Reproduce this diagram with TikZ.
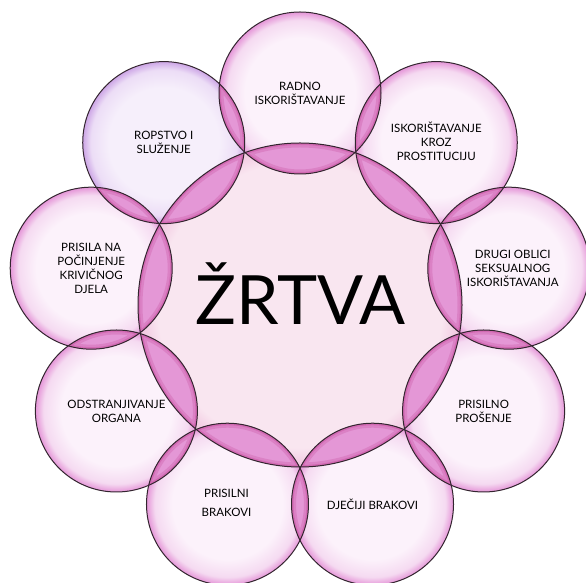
\documentclass[tikz,border=0pt]{standalone}
\usepackage{fontspec}
\setmainfont{Lato}
\usetikzlibrary{calc}
\definecolor{edgecol}{HTML}{33252F}
\definecolor{pinkin}{HTML}{FCF2FB}
\definecolor{pinkmid}{HTML}{F5DAF1}
\definecolor{pinkout}{HTML}{E596D8}
\definecolor{lavin}{HTML}{F6EFFB}
\definecolor{lavmid}{HTML}{ECDDF6}
\definecolor{lavout}{HTML}{CDA6E6}
\definecolor{cin}{HTML}{F9E6F0}
\definecolor{cout}{HTML}{F2CBE2}
\definecolor{lensfill}{HTML}{E497D6}
\definecolor{lensrim}{HTML}{C8509F}
\pgfdeclareradialshading{pinkbub}{\pgfpoint{0bp}{0bp}}{color(0bp)=(pinkin); color(17bp)=(pinkin); color(22.5bp)=(pinkmid); color(25bp)=(pinkout); color(50bp)=(pinkout)}
\pgfdeclareradialshading{lavbub}{\pgfpoint{0bp}{0bp}}{color(0bp)=(lavin); color(17bp)=(lavin); color(22.5bp)=(lavmid); color(25bp)=(lavout); color(50bp)=(lavout)}
\pgfdeclareradialshading{centbub}{\pgfpoint{0bp}{0bp}}{color(0bp)=(cin); color(22bp)=(cin); color(24.5bp)=(cout); color(25bp)=(cout); color(50bp)=(cout)}
\tikzset{
  ring/.style={draw=edgecol, line width=1pt},
  rimwide/.style={draw=lensrim, draw opacity=0.30, line width=9pt},
  rimthin/.style={draw=lensrim, draw opacity=0.45, line width=4pt},
  lbl/.style={font=\fontsize{11.5}{14}\selectfont, align=center, text=black},
  big/.style={font=\fontsize{68}{70}\selectfont, text=black}
}
\begin{document}
\begin{tikzpicture}[x=1pt,y=1pt]
\useasboundingbox (0,0) rectangle (586,583);
\clip (0,0) rectangle (586,583);
\fill[white] (0,0) rectangle (586,583);
\coordinate (C) at (300,278);
\def\R{162}
\def\r{81}
% outer centres
\foreach \a [count=\i] in {90,50,10,-30,-70,-110,-150,170,130}{
  \coordinate (o\i) at ($(C)+(\a:212)$);
}
% centre circle
\shade[shading=centbub] (C) circle (\R);
% outer circles
\foreach \i in {1,...,8}{
  \shade[shading=pinkbub] (o\i) circle (\r);
}
\shade[shading=lavbub] (o9) circle (\r);
% lenses with centre
\foreach \i in {1,...,9}{
  \begin{scope}
    \clip (o\i) circle (\r);
    \clip (C) circle (\R);
    \fill[lensfill] (C) circle (\R);
    \draw[rimwide] (C) circle (\R) (o\i) circle (\r);
    \draw[rimthin] (C) circle (\R) (o\i) circle (\r);
  \end{scope}
}
% lenses between neighbours
\foreach \i/\j in {1/2,2/3,3/4,4/5,5/6,6/7,7/8,8/9,9/1}{
  \begin{scope}
    \clip (o\i) circle (\r);
    \clip (o\j) circle (\r);
    \fill[lensfill] (o\j) circle (\r);
    \draw[rimwide] (o\i) circle (\r) (o\j) circle (\r);
    \draw[rimthin] (o\i) circle (\r) (o\j) circle (\r);
  \end{scope}
}
% outlines
\draw[ring] (C) circle (\R);
\foreach \i in {1,...,9}{
  \draw[ring] (o\i) circle (\r);
}
% texts
\node[big, anchor=base] (t0) at (300.5,258) {ŽRTVA};
\node[lbl] (t1) at (o1) {RADNO\\ISKORIŠTAVANJE};
\node[lbl] (t2) at ($(o2)+(0,1)$) {ISKORIŠTAVANJE\\KROZ\\PROSTITUCIJU};
\node[lbl] (t3) at ($(o3)+(4,0)$) {DRUGI OBLICI\\SEKSUALNOG\\ISKORIŠTAVANJA};
\node[lbl] (t4) at (o4) {PRISILNO\\PROŠENJE};
\node[lbl] (t5) at (o5) {DJEČIJI BRAKOVI};
\node[lbl, font=\fontsize{11.5}{19}\selectfont] (t6) at ($(o6)+(-1,1)$) {PRISILNI\\BRAKOVI};
\node[lbl] (t7) at (o7) {ODSTRANJIVANJE\\ORGANA};
\node[lbl] (t8) at (o8) {PRISILA NA\\POČINJENJE\\KRIVIČNOG\\DJELA};
\node[lbl] (t9) at (o9) {ROPSTVO I\\SLUŽENJE};
\end{tikzpicture}
\end{document}
